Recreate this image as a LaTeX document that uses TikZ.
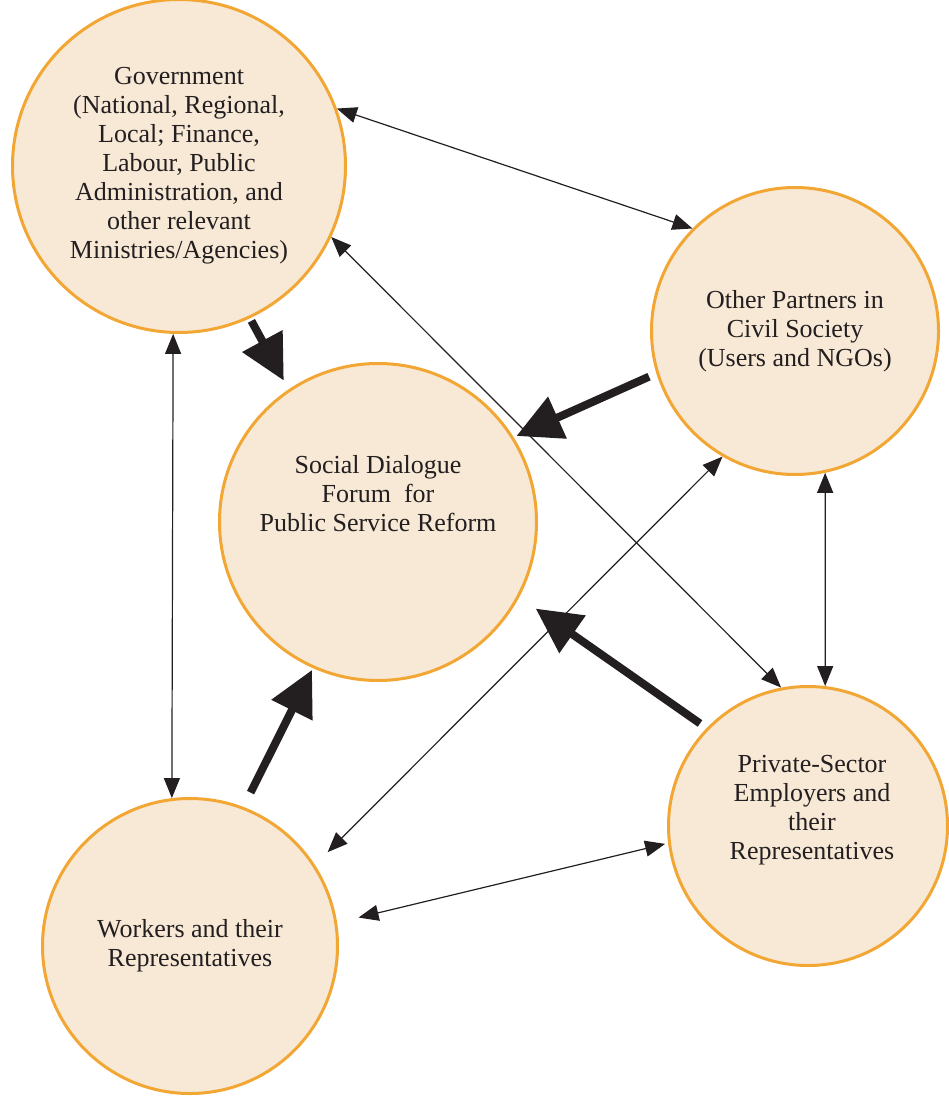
\documentclass[tikz,border=0pt]{standalone}
\usepackage{fontspec}
\setmainfont{Liberation Serif}
\usetikzlibrary{arrows.meta}
\definecolor{blobfill}{RGB}{248,233,214}
\definecolor{blobline}{RGB}{242,166,52}
\definecolor{inkgray}{RGB}{35,31,32}
\tikzset{partner/.style={
  shape=circle,
  draw=blobline,
  fill=blobfill,
  line width=3pt,
  inner sep=0pt,
  blobtext,
  },
  blobtext/.style={
  align=center,
  text=inkgray,
  font=\fontsize{26}{29}\selectfont,
  },
  link/.style={
  {Triangle[length=20pt,width=16pt]}-{Triangle[length=20pt,width=16pt]},
  line width=1.2pt,
  draw=inkgray,
  },
  push/.style={
  -{Triangle[length=45pt,width=44pt]},
  line width=8pt,
  draw=inkgray,
  },
}

\begin{document}
\begin{tikzpicture}[x=1pt,y=-1pt]
  \useasboundingbox (0,0) rectangle (948,1097);

  \node [partner, minimum size=333pt] (gov) at (179,166)
    {Government\\(National, Regional,\\Local; Finance,\\Labour, Public\\Administration, and\\other relevant\\Ministries/Agencies)};
  \node [partner, minimum size=317pt,
    label={[blobtext, yshift=28pt]center:Social Dialogue\\Forum\ \ for\\Public Service Reform}] (soc) at (378,522) {};
  \node [partner, minimum size=287pt] (oth) at (795,331)
    {Other Partners in\\Civil Society\\(Users and NGOs)};
  \node [partner, minimum size=279pt,
    label={[blobtext, xshift=4pt, yshift=16pt]center:Private-Sector\\Employers and\\their\\Representatives}] (prv) at (808,826) {};
  \node [partner, minimum size=295pt] (wrk) at (190,946)
    {Workers and their\\Representatives};

  % two-way links
  \draw [link] (gov.20) -- (oth.135);
  \draw [link] (gov.-25) -- (prv.101);
  \draw [link] (gov.-92) -- (wrk.97);
  \draw [link] (oth.-78) -- (prv.83);
  \draw [link, shorten <=18pt] (wrk.33) -- (oth.240);
  \draw [link, shorten <=22pt, shorten >=3pt] (wrk.9) -- (prv.187);

  % into the forum
  \draw [push, shorten <=3pt, shorten >=10pt] (gov.-65) -- (soc.124);
  \draw [push, shorten <=8pt, shorten >=3pt] (oth.197) -- (soc.32);
  \draw [push, shorten <=8pt, shorten >=20pt] (prv.136) -- (soc.-28);
  \draw [push, shorten <=16pt, shorten >=2pt] (wrk.69) -- (soc.-114);
\end{tikzpicture}
\end{document}
